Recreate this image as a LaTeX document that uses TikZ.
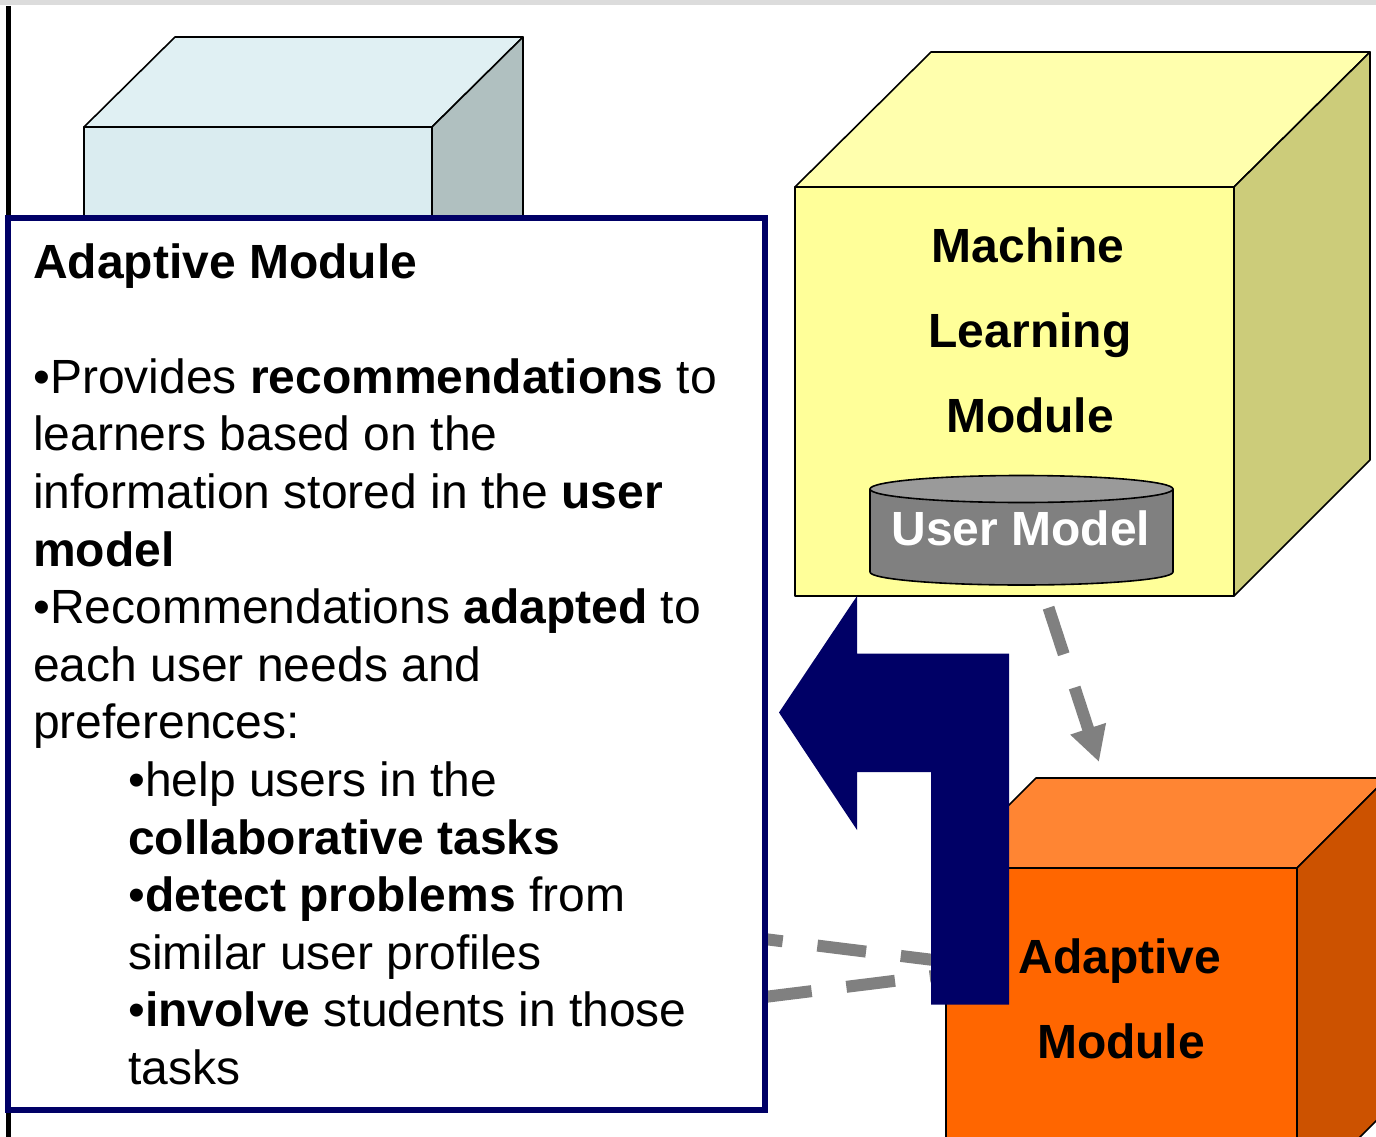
\documentclass[tikz,border=0pt]{standalone}
\usepackage{fontspec}
\setmainfont{Liberation Sans}
\usetikzlibrary{arrows.meta}
\definecolor{navyb}{HTML}{000066}
\definecolor{dgray}{HTML}{808080}
\definecolor{bandgray}{HTML}{DCDCDC}
\definecolor{bluefront}{HTML}{DAECF0}
\definecolor{bluetop}{HTML}{E0F0F3}
\definecolor{blueside}{HTML}{B0C0C0}
\definecolor{yelfront}{HTML}{FFFF99}
\definecolor{yeltop}{HTML}{FFFFAD}
\definecolor{yelside}{HTML}{CCCC7A}
\definecolor{orfront}{HTML}{FF6600}
\definecolor{ortop}{HTML}{FF8533}
\definecolor{orside}{HTML}{CC5200}
\definecolor{cylbody}{HTML}{808080}
\definecolor{cyltop}{HTML}{9A9A9A}
\begin{document}
\begin{tikzpicture}[x=1pt,y=-1pt,
  edge/.style={draw=black,line width=1.6pt,line join=round},
  txt/.style={inner sep=0pt,anchor=base west,font=\fontsize{48}{57.6}\selectfont},
  cubetxt/.style={inner sep=0pt,anchor=base,font=\fontsize{48}{57.6}\selectfont\bfseries},
  gdash/.style={draw=dgray,line width=12pt,dash pattern=on 49pt off 35pt},
]
\useasboundingbox (0,0) rectangle (1376,1137);
\clip (0,0) rectangle (1376,1137);
\fill[white] (0,0) rectangle (1376,1137);
% top band and left rule
\fill[bandgray] (0,0) rectangle (1376,5);
\draw[line width=5pt] (8,6) -- (8,1137);

% light blue cube (mostly hidden)
\filldraw[fill=bluefront, edge] (84,400) -- (84,127) -- (432,127) -- (432,400);
\filldraw[fill=bluetop, edge] (84,127) -- (175,37) -- (523,37) -- (432,127) -- cycle;
\filldraw[fill=blueside, edge] (432,127) -- (523,37) -- (523,400) -- (432,400) -- cycle;

% dashed links (behind the text box)
\coordinate (adjoin) at (998,968);
\coordinate (bup) at (500,906.2);
\coordinate (blo) at (500,1029.8);
\draw[gdash, dash phase=35pt] (adjoin) -- (bup);
\draw[gdash, dash phase=64.2pt] (adjoin) -- (blo);

% text box
\draw[navyb, line width=6pt, fill=white] (8,218) rectangle (765,1110);

\node[txt] (t1) at (33,278) {\textbf{Adaptive Module}};
\node[txt] (t3) at (33,393.2) {•Provides \textbf{recommendations} to};
\node[txt] (t4) at (33,450.8) {learners based on the};
\node[txt] (t5) at (33,508.4) {information stored in the \textbf{user}};
\node[txt] (t6) at (33,566) {\textbf{model}};
\node[txt] (t7) at (33,623.6) {•Recommendations \textbf{adapted} to};
\node[txt] (t8) at (33,681.2) {each user needs and};
\node[txt] (t9) at (33,738.8) {preferences:};
\node[txt] (t10) at (128,796.4) {•help users in the};
\node[txt] (t11) at (128,854) {\textbf{collaborative tasks}};
\node[txt] (t12) at (128,911.6) {•\textbf{detect problems} from};
\node[txt] (t13) at (128,969.2) {similar user profiles};
\node[txt] (t14) at (128,1026.8) {•\textbf{involve} students in those};
\node[txt] (t15) at (128,1084.4) {tasks};

% yellow cube
\filldraw[fill=yelfront, edge] (795,187) rectangle (1234,596);
\filldraw[fill=yeltop, edge] (795,187) -- (931,52) -- (1370,52) -- (1234,187) -- cycle;
\filldraw[fill=yelside, edge] (1234,187) -- (1370,52) -- (1370,460) -- (1234,596) -- cycle;
\node[cubetxt] (ml1) at (1028,262) {Machine};
\node[cubetxt] (ml2) at (1030,347) {Learning};
\node[cubetxt] (ml3) at (1030,432) {Module};

% user model cylinder
\filldraw[fill=cylbody, edge] (870,489) -- (870,572)
  arc[start angle=180, end angle=0, x radius=151.5, y radius=13] -- (1173,489) -- cycle;
\filldraw[fill=cyltop, edge] (1021.5,489) ellipse[x radius=151.5, y radius=13.5];
\node[cubetxt, text=white] (um) at (1021,545) {User Model};

% dashed arrow ML -> Adaptive
\coordinate (mlout) at (1048.5,607.7);
\coordinate (adin) at (1099,762);
\draw[gdash, -{Triangle[length=35pt,width=35pt]}] (mlout) -- (adin);

% orange cube
\filldraw[fill=orfront, edge] (946,868) rectangle (1297,1200);
\filldraw[fill=ortop, edge] (946,868) -- (1036,778) -- (1387,778) -- (1297,868) -- cycle;
\filldraw[fill=orside, edge] (1297,868) -- (1387,778) -- (1387,1110) -- (1297,1200) -- cycle;
\node[cubetxt] (ad1) at (1120,973) {Adaptive};
\node[cubetxt] (ad2) at (1121,1058) {Module};

% navy bent arrow
\fill[navyb] (779,712.5) -- (857,596) -- (857,653.5) -- (1009,653.5) -- (1009,1004.5)
  -- (931,1004.5) -- (931,772) -- (857,772) -- (857,830) -- cycle;
\end{tikzpicture}
\end{document}
